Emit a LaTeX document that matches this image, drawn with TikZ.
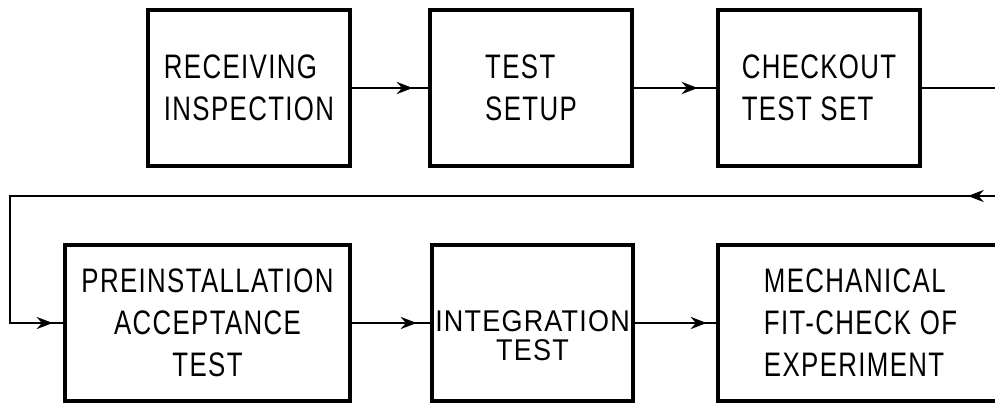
\documentclass[tikz,border=0pt]{standalone}
\usepackage{fontspec}
\setmainfont{Liberation Sans}[FakeStretch=0.76, LetterSpace=4]
\newfontfamily\widefont{Liberation Sans}[FakeStretch=0.9, LetterSpace=4]
\usetikzlibrary{arrows.meta,decorations.markings}

\tikzset{
  stagebox/.style={draw, line width=4.5pt, minimum height=156pt, inner sep=0pt,
    font=\fontsize{34}{42}\selectfont},
  flowtip/.style={line width=2.8pt},
  flow/.style={flowtip, postaction={decorate, decoration={markings,
    mark=at position -#1 with {\arrow{Stealth[length=16pt,width=12pt]}}}}},
  flow/.default=15pt
}

\begin{document}
\begin{tikzpicture}[x=1pt, y=1pt]

\useasboundingbox (0,0) rectangle (995,405);
\clip (0,0) rectangle (995,405);

% === Top row ===
\node[stagebox, minimum width=202pt, align=left] (recv) at (249,317) {RECEIVING\\INSPECTION};
\node[stagebox, minimum width=202pt, align=left] (setup) at (531,317) {TEST\\SETUP};
\node[stagebox, minimum width=202pt, align=left] (chkout) at (819,317) {CHECKOUT\\TEST SET};

% === Bottom row ===
\node[stagebox, minimum width=285pt, align=center] (preinst) at (207.5,82)
     {PREINSTALLATION\\ACCEPTANCE\\TEST};
\node[stagebox, minimum width=201pt] (integ) at (532.5,82) {};
\node[font=\widefont\fontsize{30}{29}\selectfont, align=center, inner sep=0pt] (integtext)
     at (532.5,69) {INTEGRATION\\TEST};
\node[stagebox, minimum width=285pt, align=left] (mechfit) at (860.5,82)
     {MECHANICAL\\FIT-CHECK OF\\EXPERIMENT};

% === Connectors ===
\draw[flow=15pt] (recv.east) -- (setup.west);
\draw[flow=18pt] (setup.east) -- (chkout.west);
\draw[flow=13pt] (preinst.east) -- (integ.west);
\draw[flow=9pt] (integ.east) -- (mechfit.west);

% return loop (runs off the right edge)
\coordinate (loopout) at (1010,317);
\coordinate (loopdown) at (1010,209);
\coordinate (loopleft) at (10,209);
\draw[flowtip, postaction={decorate, decoration={markings,
    mark=at position 238pt with {\arrow{Stealth[length=16pt,width=12pt]}},
    mark=at position -10pt with {\arrow{Stealth[length=16pt,width=12pt]}}}}]
  (chkout.east) -- (loopout) -- (loopdown) -- (loopleft) |- (preinst.west);

\end{tikzpicture}
\end{document}
